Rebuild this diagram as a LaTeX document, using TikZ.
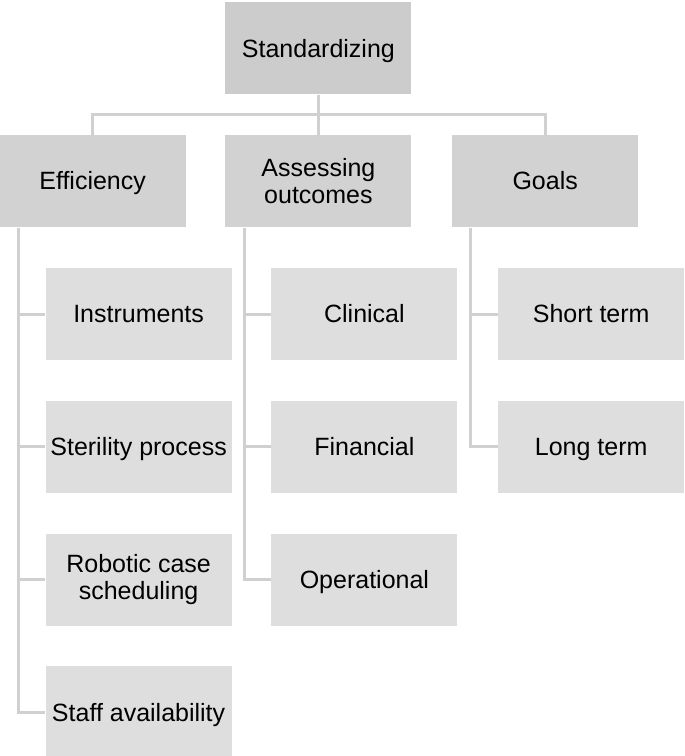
\documentclass[tikz,border=0pt]{standalone}
\usepackage{fontspec}
\setmainfont{Liberation Sans}
\usepackage{tikz}
\usetikzlibrary{positioning, calc, backgrounds}
\definecolor{topgray}{RGB}{204,204,204}
\definecolor{midgray}{RGB}{210,210,210}
\definecolor{leafgray}{RGB}{222,222,222}
\definecolor{linegray}{RGB}{208,208,208}
\tikzset{
  headbox/.style={fill=topgray, minimum width=93pt, minimum height=46pt,
                  align=center, inner sep=2pt, font=\fontsize{12.5}{13.5}\selectfont},
  catbox/.style={headbox, fill=midgray},
  leafbox/.style={headbox, fill=leafgray},
  oneline/.style={text height=1.95ex, text depth=0.3ex},
  link/.style={draw=linegray, line width=1.5pt}
}

\begin{document}
\begin{tikzpicture}[node distance=20pt and 20pt]
\useasboundingbox (0,0) rectangle (342.5pt,-378pt);

\node[headbox, oneline, anchor=north west] (root) at (112.5pt,-1pt) {Standardizing};
\node[catbox, below=20pt of root] (assess) {Assessing\\outcomes};
\node[catbox, oneline, left=19.5pt of assess] (eff) {Efficiency};
\node[catbox, oneline, right=20pt of assess] (goals) {Goals};

% efficiency branch
\node[leafbox, oneline, anchor=north west] (instr) at ([xshift=23pt, yshift=-20pt]eff.south west) {Instruments};
\node[leafbox, oneline, below=20pt of instr] (steril) {Sterility process};
\node[leafbox, below=20pt of steril] (robot) {Robotic case\\scheduling};
\node[leafbox, oneline, below=20pt of robot] (staff) {Staff availability};

% outcomes branch
\node[leafbox, oneline, anchor=north west] (clin) at ([xshift=23pt, yshift=-20pt]assess.south west) {Clinical};
\node[leafbox, oneline, below=20pt of clin] (fin) {Financial};
\node[leafbox, oneline, below=20pt of fin] (oper) {Operational};

% goals branch
\node[leafbox, oneline, anchor=north west] (short) at ([xshift=23pt, yshift=-20pt]goals.south west) {Short term};
\node[leafbox, oneline, below=20pt of short] (long) {Long term};

\begin{scope}[on background layer]
\coordinate (bus) at ($(root.south)!0.5!(assess.north)$);
\draw[link] (root.south) -- (assess.north);
\draw[link] (eff.north) |- (bus) -| (goals.north);

\foreach \leaf in {instr, steril, robot, staff}
  \draw[link] ([xshift=9.5pt]eff.south west) |- (\leaf.west);
\foreach \leaf in {clin, fin, oper}
  \draw[link] ([xshift=9.5pt]assess.south west) |- (\leaf.west);
\foreach \leaf in {short, long}
  \draw[link] ([xshift=9.5pt]goals.south west) |- (\leaf.west);
\end{scope}
\end{tikzpicture}
\end{document}
